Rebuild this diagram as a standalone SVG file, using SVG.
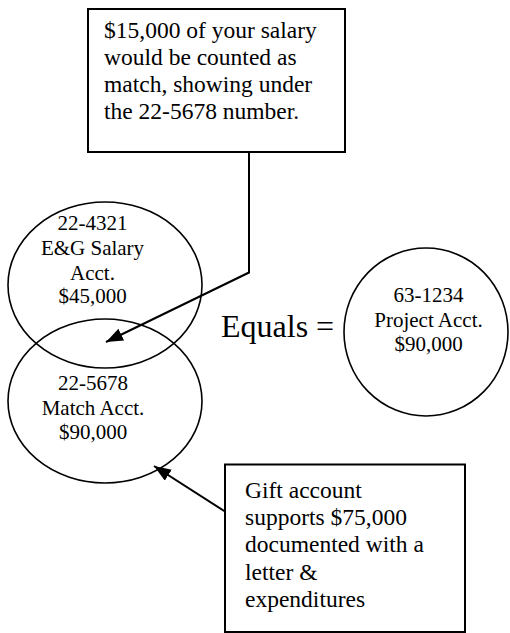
<svg xmlns="http://www.w3.org/2000/svg" width="510" height="633" viewBox="0 0 510 633">
<style>
text{font-family:"Liberation Serif","Times New Roman",Times,serif;fill:#000}
.box{fill:#fff;stroke:#000;stroke-width:2}
.ell{fill:none;stroke:#000;stroke-width:1.6}
.con{fill:none;stroke:#000;stroke-width:2}
.bt{font-size:23.5px}
.et{font-size:21px;text-anchor:middle}
</style>
<defs>
<marker id="ah" viewBox="0 0 10 10" refX="10" refY="5" markerWidth="17" markerHeight="13" markerUnits="userSpaceOnUse" orient="auto" preserveAspectRatio="none">
<path d="M0,0 L10,5 L0,10 z" fill="#000"/>
</marker>
</defs>
<rect width="510" height="633" fill="#fff"/>
<g id="note-top">
<rect class="box" x="88" y="9" width="257" height="143"/>
<text class="bt" x="104" y="38">$15,000 of your salary</text>
<text class="bt" x="104" y="65">would be counted as</text>
<text class="bt" x="104" y="92">match, showing under</text>
<text class="bt" x="104" y="118.5">the 22-5678 number.</text>
</g>
<g id="salary-acct">
<ellipse class="ell" cx="105" cy="285" rx="97" ry="83"/>
<text class="et" x="92.5" y="229.5">22-4321</text>
<text class="et" x="92.5" y="254.5">E&amp;G Salary</text>
<text class="et" x="92.5" y="279.5">Acct.</text>
<text class="et" x="92.5" y="303">$45,000</text>
</g>
<g id="match-acct">
<ellipse class="ell" cx="105" cy="401" rx="97" ry="82"/>
<text class="et" x="93" y="389.5">22-5678</text>
<text class="et" x="93" y="414.5">Match Acct.</text>
<text class="et" x="93" y="438.5">$90,000</text>
</g>
<g id="equals">
<text x="221" y="337" style="font-size:32px">Equals =</text>
</g>
<g id="project-acct">
<ellipse class="ell" cx="426" cy="332" rx="82" ry="84"/>
<text class="et" x="428.5" y="302">63-1234</text>
<text class="et" x="428.5" y="326.5">Project Acct.</text>
<text class="et" x="428.5" y="350.5">$90,000</text>
</g>
<g id="note-bottom">
<rect class="box" x="225" y="464.5" width="240" height="167.5"/>
<text class="bt" x="245" y="497.5">Gift account</text>
<text class="bt" x="245" y="525">supports $75,000</text>
<text class="bt" x="245" y="552">documented with a</text>
<text class="bt" x="245" y="579.5">letter &amp;</text>
<text class="bt" x="245" y="607">expenditures</text>
</g>
<g id="connectors">
<polyline class="con" points="249,152 249,272.5 106,342" marker-end="url(#ah)"/>
<line class="con" x1="225" y1="511.5" x2="154" y2="466" marker-end="url(#ah)"/>
</g>
</svg>
